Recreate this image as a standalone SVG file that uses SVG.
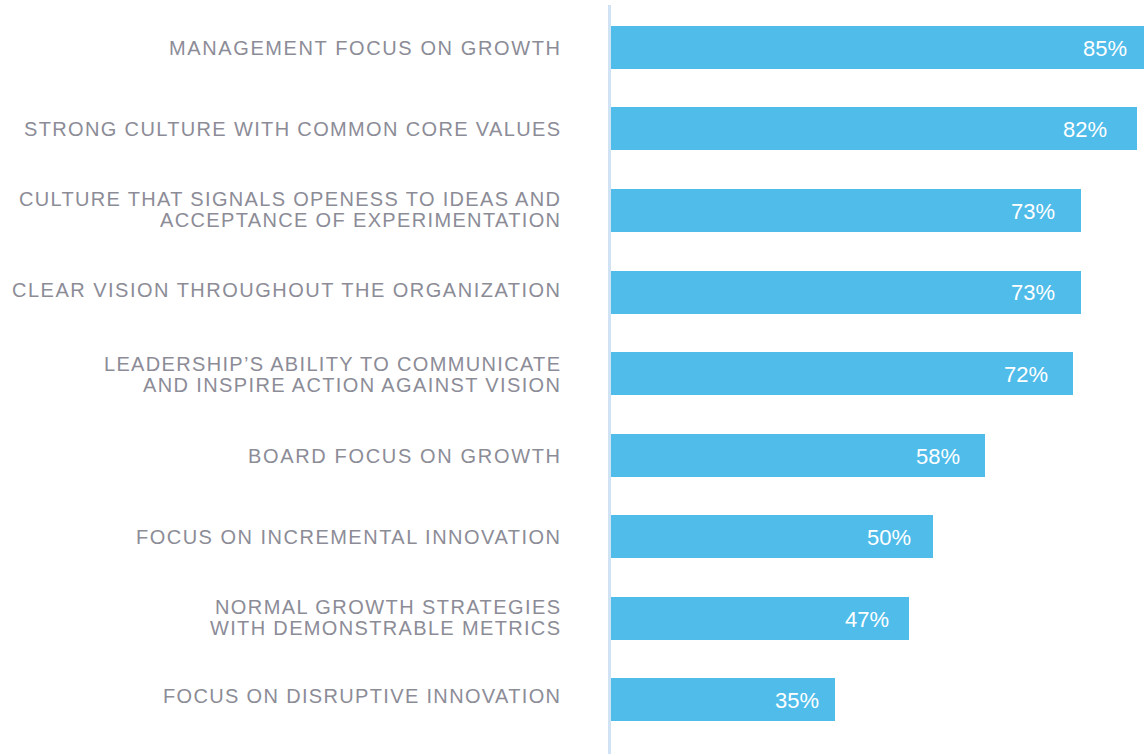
<svg xmlns="http://www.w3.org/2000/svg" width="1144" height="754" viewBox="0 0 1144 754">
<style>
.bar{fill:#50bcea}
.lbl{font-family:"Liberation Sans",Arial,sans-serif;font-size:20px;fill:#8c8c97;text-anchor:end}
.val{font-family:"Liberation Sans",Arial,sans-serif;font-size:22px;fill:#ffffff;text-anchor:end}
</style>
<rect x="0" y="0" width="1144" height="754" fill="#ffffff"/>
<g id="axis"><rect x="608" y="5" width="3" height="749" fill="#d0e3f4"/></g>
<g id="bar1"><rect class="bar" x="611" y="26" width="533" height="43"/><text class="lbl" x="560" y="55" textLength="391" lengthAdjust="spacing">MANAGEMENT FOCUS ON GROWTH</text><text class="val" x="1127" y="56">85%</text></g>
<g id="bar2"><rect class="bar" x="611" y="107" width="526" height="43"/><text class="lbl" x="560" y="136" textLength="536" lengthAdjust="spacing">STRONG CULTURE WITH COMMON CORE VALUES</text><text class="val" x="1107" y="137">82%</text></g>
<g id="bar3"><rect class="bar" x="611" y="189" width="470" height="43"/><text class="lbl" x="560" y="206" textLength="541" lengthAdjust="spacing">CULTURE THAT SIGNALS OPENESS TO IDEAS AND</text><text class="lbl" x="560" y="227" textLength="400" lengthAdjust="spacing">ACCEPTANCE OF EXPERIMENTATION</text><text class="val" x="1055" y="219">73%</text></g>
<g id="bar4"><rect class="bar" x="611" y="271" width="470" height="43"/><text class="lbl" x="560" y="297" textLength="548" lengthAdjust="spacing">CLEAR VISION THROUGHOUT THE ORGANIZATION</text><text class="val" x="1055" y="300">73%</text></g>
<g id="bar5"><rect class="bar" x="611" y="352" width="462" height="43"/><text class="lbl" x="560" y="371" textLength="456" lengthAdjust="spacing">LEADERSHIP’S ABILITY TO COMMUNICATE</text><text class="lbl" x="560" y="392" textLength="417" lengthAdjust="spacing">AND INSPIRE ACTION AGAINST VISION</text><text class="val" x="1048" y="382">72%</text></g>
<g id="bar6"><rect class="bar" x="611" y="434" width="374" height="43"/><text class="lbl" x="560" y="463" textLength="312" lengthAdjust="spacing">BOARD FOCUS ON GROWTH</text><text class="val" x="960" y="464">58%</text></g>
<g id="bar7"><rect class="bar" x="611" y="515" width="322" height="43"/><text class="lbl" x="560" y="544" textLength="424" lengthAdjust="spacing">FOCUS ON INCREMENTAL INNOVATION</text><text class="val" x="911" y="545">50%</text></g>
<g id="bar8"><rect class="bar" x="611" y="597" width="298" height="43"/><text class="lbl" x="560" y="614" textLength="345" lengthAdjust="spacing">NORMAL GROWTH STRATEGIES</text><text class="lbl" x="560" y="635" textLength="350" lengthAdjust="spacing">WITH DEMONSTRABLE METRICS</text><text class="val" x="889" y="627">47%</text></g>
<g id="bar9"><rect class="bar" x="611" y="678" width="224" height="43"/><text class="lbl" x="560" y="703" textLength="397" lengthAdjust="spacing">FOCUS ON DISRUPTIVE INNOVATION</text><text class="val" x="819" y="708">35%</text></g>
<g id="connectors"></g>
</svg>
